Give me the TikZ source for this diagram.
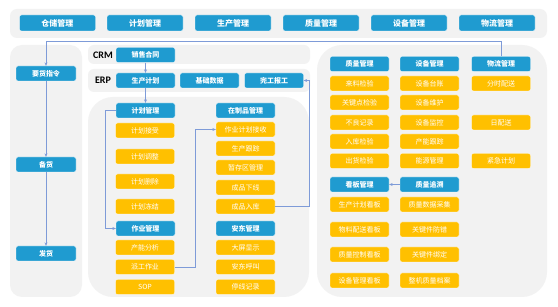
\documentclass[tikz,border=0pt]{standalone}
\usepackage{fontspec}
\setmainfont{Carlito}
\newfontfamily\cjk{Noto Sans CJK SC}
\usetikzlibrary{arrows.meta}
\definecolor{bbl}{HTML}{1F9BD0}
\definecolor{yel}{HTML}{FFC000}
\definecolor{pan}{HTML}{F2F2F2}
\definecolor{lnk}{HTML}{7E9BD8}
\tikzset{
  panel/.style={fill=pan,draw=none},
  bx/.style={rounded corners=2pt,minimum width=59pt,minimum height=15pt,inner sep=0pt,text=white,draw=white,line width=0.3pt},
  bluebox/.style={bx,fill=bbl,font=\cjk\bfseries\fontsize{7}{8}\selectfont},
  yelbox/.style={bx,fill=yel,font=\cjk\fontsize{7}{8}\selectfont},
  topbox/.style={bx,fill=bbl,minimum width=76pt,minimum height=16pt,font=\cjk\bfseries\fontsize{8}{9}\selectfont},
  lab/.style={font=\bfseries\fontsize{10}{11}\selectfont,text=black},
  conn/.style={draw=lnk,line width=0.6pt},
  arr/.style={conn,-{Stealth[length=3.5pt,width=3pt]}}
}
\begin{document}
\begin{tikzpicture}[x=1pt,y=-1pt]
\useasboundingbox (0,0) rectangle (558,307);
\fill[white] (0,0) rectangle (558,307);
% panels
\fill[panel,rounded corners=7pt] (10,9) rectangle (547,38);
\fill[panel,rounded corners=12pt] (10,45) rectangle (82,297);
\fill[panel,rounded corners=6pt] (88,45) rectangle (310,64);
\fill[panel,rounded corners=6pt] (88,69) rectangle (310,92);
\fill[panel,rounded corners=25pt] (88,97) rectangle (309,297);
\fill[panel,rounded corners=25pt] (317,45) rectangle (547,297);
% top
\node[topbox] (t1) at (57.5,23) {仓储管理};
\node[topbox] (t2) at (145,23) {计划管理};
\node[topbox] (t3) at (233,23) {生产管理};
\node[topbox] (t4) at (321,23) {质量管理};
\node[topbox] (t5) at (409,23) {设备管理};
\node[topbox] (t6) at (497,23) {物流管理};
% left
\node[bluebox,minimum width=60pt] (yh) at (46,73.5) {要货指令};
\node[bluebox,minimum width=60pt] (bh) at (46,164.5) {备货};
\node[bluebox,minimum width=60pt] (fh) at (46,253.5) {发货};
% CRM / ERP
\node[lab] (crm) at (103,55) {CRM};
\node[lab] (erp) at (103,80.5) {ERP};
\node[bluebox] (xs) at (145.5,55) {销售合同};
\node[bluebox] (scjh) at (145.5,80.5) {生产计划};
\node[bluebox] (jcsj) at (209.5,80.5) {基础数据};
\node[bluebox] (wg) at (274,80.5) {完工报工};
% middle col1
\node[bluebox] (jhgl) at (145.5,110.5) {计划管理};
\node[yelbox] (m1) at (145,130.5) {计划接受};
\node[yelbox] (m2) at (145,156.5) {计划调整};
\node[yelbox] (m3) at (145,181.5) {计划删除};
\node[yelbox] (m4) at (145,206.5) {计划冻结};
\node[bluebox] (zygl) at (145.5,228.5) {作业管理};
\node[yelbox] (m5) at (145,247.5) {产能分析};
\node[yelbox] (pg) at (145,267) {派工作业};
\node[yelbox] (m6) at (145,287) {SOP};
% middle col2
\node[bluebox] (zzp) at (245.5,110.5) {在制品管理};
\node[yelbox] (zyjs) at (245.5,129.5) {作业计划接收};
\node[yelbox] (n1) at (245.5,148.5) {生产跟踪};
\node[yelbox] (n2) at (245.5,167.5) {暂存区管理};
\node[yelbox] (n3) at (245.5,187.5) {成品下线};
\node[yelbox] (rk) at (245.5,206.5) {成品入库};
\node[bluebox] (ad) at (245.5,228.5) {安东管理};
\node[yelbox] (n4) at (245.5,247.5) {大屏显示};
\node[yelbox] (n5) at (245.5,267) {安东呼叫};
\node[yelbox] (n6) at (245.5,287) {停线记录};
% right panel
\node[bluebox] (r1) at (359.5,64) {质量管理};
\node[bluebox] (r2) at (429.5,64) {设备管理};
\node[bluebox] (wl) at (501,64) {物流管理};
\node[yelbox] (a1) at (359.5,83.5) {来料检验};
\node[yelbox] (a2) at (359.5,102.5) {关键点检验};
\node[yelbox] (a3) at (359.5,122.5) {不良记录};
\node[yelbox] (a4) at (359.5,141.5) {入库检验};
\node[yelbox] (a5) at (359.5,161) {出货检验};
\node[yelbox] (b1) at (429.5,83.5) {设备台账};
\node[yelbox] (b2) at (429.5,102.5) {设备维护};
\node[yelbox] (b3) at (429.5,122.5) {设备监控};
\node[yelbox] (b4) at (429.5,141.5) {产能跟踪};
\node[yelbox] (b5) at (429.5,161) {能源管理};
\node[yelbox] (c1) at (501,83.5) {分时配送};
\node[yelbox] (c2) at (501,122.5) {日配送};
\node[yelbox] (c3) at (501,161) {紧急计划};
\node[bluebox] (kb) at (359.5,184.5) {看板管理};
\node[bluebox] (zs) at (429.5,184.5) {质量追溯};
\node[yelbox] (d1) at (359.5,204.5) {生产计划看板};
\node[yelbox] (d2) at (359.5,229.5) {物料配送看板};
\node[yelbox] (d3) at (359.5,254.5) {质量控制看板};
\node[yelbox] (d4) at (359.5,280.5) {设备管理看板};
\node[yelbox] (e1) at (429.5,204.5) {质量数据采集};
\node[yelbox] (e2) at (429.5,229.5) {关键件防错};
\node[yelbox] (e3) at (429.5,254.5) {关键件绑定};
\node[yelbox] (e4) at (429.5,280.5) {整机质量档案};
% connectors
\coordinate (turn) at (501,41);
\draw[arr] (wl.north) -- (turn) -| (yh.north);
\draw[arr] (yh.south) -- (bh.north);
\draw[arr] (bh.south) -- (fh.north);
\draw[arr] (xs.south) -- (scjh.north);
\draw[arr] (scjh.south) -- (jhgl.north);
\draw[arr] (jhgl.west) -- ++(-11,0) |- (zygl.west);
\draw[arr] (pg.east) -- ++(20.5,0) |- (zyjs.west);
\draw[arr] (rk.east) -- ++(34.5,0) |- (wg.east);
\draw[arr] (zs.west) -- (kb.east);
\end{tikzpicture}
\end{document}
